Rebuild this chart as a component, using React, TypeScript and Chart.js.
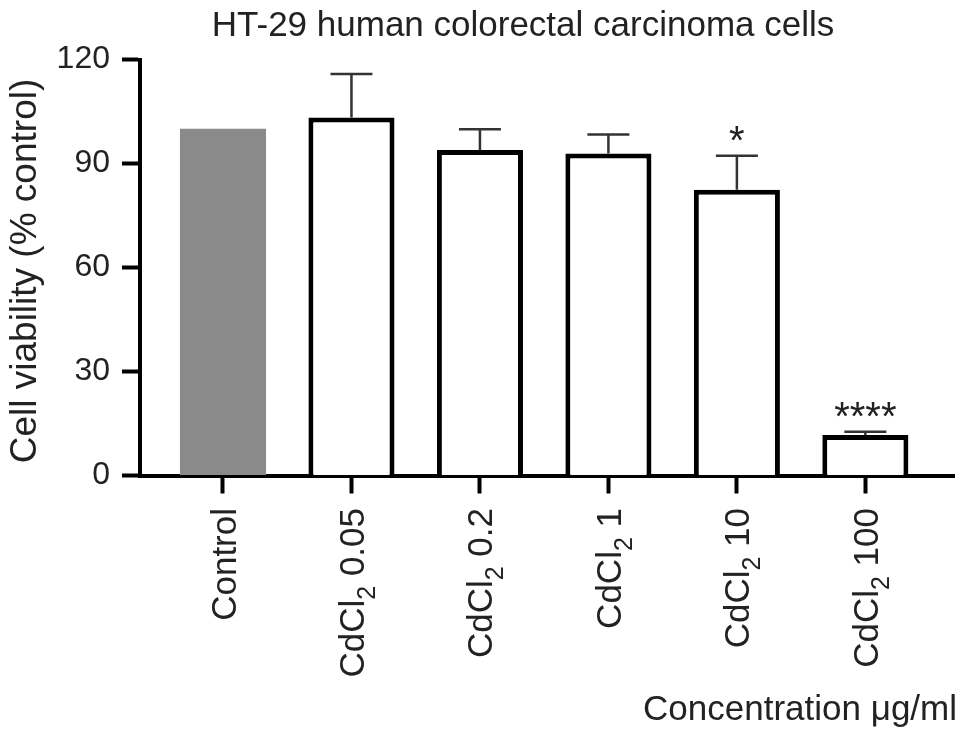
import React, { useEffect, useRef } from "react";
import { Chart, registerables } from "chart.js";

Chart.register(...registerables);

const categories = ["Control", "CdCl₂ 0.05", "CdCl₂ 0.2", "CdCl₂ 1", "CdCl₂ 10", "CdCl₂ 100"];
const viability = [100, 103.3, 93.9, 92.9, 82.4, 11.7];
const sdUpper = [0, 12.5, 6.0, 5.5, 9.8, 0.9];
const significance = ["", "", "", "", "*", "****"];
const yTicks = [0, 30, 60, 90, 120];
const barFills = ["#8a8a8a", "#ffffff", "#ffffff", "#ffffff", "#ffffff", "#ffffff"];
const barBorders = [0, 5, 5, 5, 5, 5];

const TITLE = "HT-29 human colorectal carcinoma cells";
const Y_TITLE = "Cell viability (% control)";
const X_TITLE = "Concentration μg/ml";

const FONT = '"Liberation Sans", Arial, Helvetica, sans-serif';
const TEXT = "#222222";

const annotate = {
  id: "annotate",
  afterDraw(chart: any) {
    const ctx = chart.ctx as CanvasRenderingContext2D;
    const xs = chart.scales.x;
    const ys = chart.scales.y;
    const meta = chart.getDatasetMeta(0);
    ctx.save();

    // error bars (upper only)
    ctx.strokeStyle = "#333333";
    ctx.lineWidth = 2.5;
    meta.data.forEach((el: any, i: number) => {
      const sd = sdUpper[i];
      if (!sd) return;
      const base = ys.getPixelForValue(viability[i]);
      const top = ys.getPixelForValue(viability[i] + sd);
      ctx.beginPath();
      ctx.moveTo(el.x, base);
      ctx.lineTo(el.x, top);
      ctx.moveTo(el.x - 21, top);
      ctx.lineTo(el.x + 21, top);
      ctx.stroke();
    });

    // significance stars
    ctx.fillStyle = TEXT;
    ctx.font = `40px ${FONT}`;
    ctx.textAlign = "center";
    ctx.textBaseline = "alphabetic";
    meta.data.forEach((el: any, i: number) => {
      const s = significance[i];
      if (!s) return;
      const top = ys.getPixelForValue(viability[i] + sdUpper[i]);
      ctx.fillText(s, el.x, top - 2);
    });

    // title
    ctx.font = `35px ${FONT}`;
    ctx.textAlign = "center";
    ctx.fillText(TITLE, 523, 36);

    // x title
    ctx.textAlign = "right";
    ctx.fillText(X_TITLE, 957, 720);

    // y title
    ctx.save();
    ctx.font = `37px ${FONT}`;
    ctx.translate(36, 271);
    ctx.rotate(-Math.PI / 2);
    ctx.textAlign = "center";
    ctx.fillText(Y_TITLE, 0, 0);
    ctx.restore();

    // x tick labels, rotated, with subscript
    const mainSize = 35;
    const subSize = 25;
    const capH = mainSize * 0.716;
    categories.forEach((label, i) => {
      const px = xs.getPixelForValue(i);
      const parts = label.split("₂");
      ctx.save();
      ctx.translate(px + capH / 2, 508);
      ctx.rotate(-Math.PI / 2);
      ctx.textAlign = "left";
      ctx.font = `${mainSize}px ${FONT}`;
      const w0 = ctx.measureText(parts[0]).width;
      let wSub = 0;
      let w1 = 0;
      if (parts.length > 1) {
        ctx.font = `${subSize}px ${FONT}`;
        wSub = ctx.measureText("2").width;
        ctx.font = `${mainSize}px ${FONT}`;
        w1 = ctx.measureText(parts[1]).width;
      }
      let cx = -(w0 + wSub + w1);
      ctx.fillText(parts[0], cx, 0);
      cx += w0;
      if (parts.length > 1) {
        ctx.font = `${subSize}px ${FONT}`;
        ctx.fillText("2", cx, 11);
        cx += wSub;
        ctx.font = `${mainSize}px ${FONT}`;
        ctx.fillText(parts[1], cx, 0);
      }
      ctx.restore();
    });

    ctx.restore();
  },
};

export default function App() {
  const ref = useRef<HTMLCanvasElement | null>(null);

  useEffect(() => {
    if (!ref.current) return;
    const chart = new Chart(ref.current, {
      type: "bar",
      data: {
        datasets: [
          {
            data: viability.map((v, i) => ({ x: i, y: v })),
            backgroundColor: barFills,
            borderColor: "#000000",
            borderWidth: barBorders,
            borderSkipped: "start",
            categoryPercentage: 1,
            barPercentage: 0.67,
          } as any,
        ],
      },
      options: {
        responsive: false,
        animation: false,
        events: [],
        layout: { padding: { top: 59.5, right: 15, left: 0, bottom: 0 } },
        plugins: {
          legend: { display: false },
          title: { display: false },
          tooltip: { enabled: false },
        },
        scales: {
          x: {
            type: "linear",
            min: -0.646,
            max: 5.69,
            offset: false,
            z: 1,
            afterBuildTicks: (s: any) => {
              s.ticks = categories.map((_, i) => ({ value: i }));
            },
            afterFit: (s: any) => {
              s.height = 738 - 475.5;
            },
            ticks: { display: false },
            grid: {
              offset: false,
              drawOnChartArea: false,
              drawTicks: true,
              tickLength: 18,
              tickWidth: 4,
              tickColor: "#000000",
            },
            border: { display: true, width: 4, color: "#000000" },
          },
          y: {
            type: "linear",
            min: 0,
            max: 120,
            z: 1,
            afterBuildTicks: (s: any) => {
              s.ticks = yTicks.map((v) => ({ value: v }));
            },
            afterFit: (s: any) => {
              s.width = 140;
            },
            ticks: {
              font: { size: 32, family: FONT },
              color: TEXT,
              padding: 12,
            },
            grid: {
              drawOnChartArea: false,
              drawTicks: true,
              tickLength: 18,
              tickWidth: 4,
              tickColor: "#000000",
            },
            border: { display: true, width: 4, color: "#000000" },
          },
        },
      } as any,
      plugins: [annotate],
    });
    return () => chart.destroy();
  }, []);

  return (
    <div style={{ position: "fixed", left: 0, top: 0, width: 969, height: 738, background: "#ffffff" }}>
      <canvas ref={ref} width={969} height={738} style={{ display: "block" }} />
    </div>
  );
}
